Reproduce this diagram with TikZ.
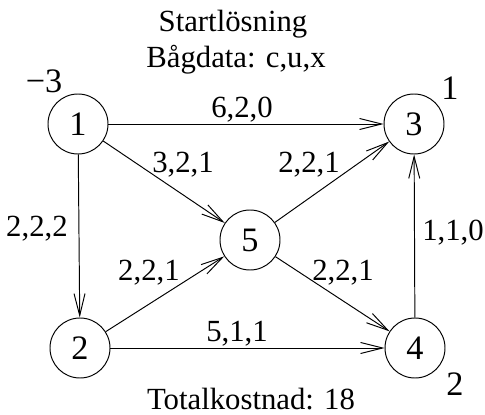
\documentclass[tikz,border=0pt]{standalone}
\usepackage{fontspec}
\setmainfont{Liberation Serif}
\usetikzlibrary{arrows.meta}
\begin{document}
\begin{tikzpicture}[
    every node/.style={font=\fontsize{17.5}{20}\selectfont},
    vertex/.style={draw,circle,minimum size=1.2cm,inner sep=0pt,line width=0.55pt,font=\fontsize{19.5}{22}\selectfont},
    lbl/.style={anchor=base},
    bal/.style={anchor=base,font=\fontsize{19.5}{22}\selectfont}
  ]
      \useasboundingbox (0,0) rectangle (9.7,8.28);
      \draw
        (1.56,5.80) node[vertex] (1){1}
        (1.60,1.32) node[vertex] (2){2}
        (8.28,5.80) node[vertex] (3){3}
        (8.30,1.32) node[vertex] (4){4}
        (5.00,3.48) node[vertex] (5){5};
      \node[lbl] (title) at (4.66,7.64) {Startlösning};
      \node[lbl] (data) at (4.72,6.92) {Bågdata: c,u,x};
      \node[lbl] (total) at (5.02,0.10) {Totalkostnad: 18};
      \node[bal] (b1) at (0.88,6.42) {−3};
      \node[bal] (b3) at (9.00,6.28) {1};
      \node[bal] (b4) at (9.10,0.38) {2};
      \begin{scope}[-{Straight Barb[length=4.4mm,width=2.2mm]},line width=0.55pt]
        \draw (1) to (3);
        \draw (1) to (5);
        \draw (1) to (2);
        \draw (2) to (5);
        \draw (2) to (4);
        \draw (5) to (3);
        \draw (5) to (4);
        \draw (4) to (3);
      \end{scope}
      \node[lbl] (c13) at (4.84,5.92) {6,2,0};
      \node[lbl] (c15) at (3.66,4.82) {3,2,1};
      \node[lbl] (c53) at (6.18,4.82) {2,2,1};
      \node[lbl] (c12) at (0.74,3.56) {2,2,2};
      \node[lbl] (c43) at (9.06,3.48) {1,1,0};
      \node[lbl] (c25) at (2.98,2.68) {2,2,1};
      \node[lbl] (c54) at (6.86,2.68) {2,2,1};
      \node[lbl] (c24) at (4.74,1.45) {5,1,1};
    \end{tikzpicture}
\end{document}
